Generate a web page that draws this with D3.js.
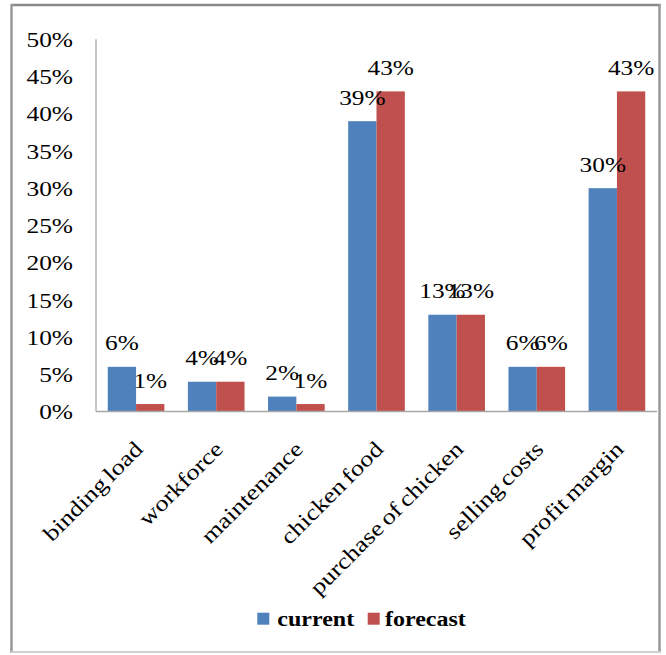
<!DOCTYPE html>
<html>
<head>
<meta charset="utf-8">
<script src="https://cdn.jsdelivr.net/npm/d3@7"></script>
<style>
  html, body { margin: 0; padding: 0; background: #fff; }
  svg { display: block; }
  text { font-family: "Liberation Serif", "Times New Roman", serif; fill: #000; }
</style>
</head>
<body>
<svg id="chart" width="666" height="655"></svg>
<script>
// Cost structure per category, current vs forecast share
const categories = ["binding load", "workforce", "maintenance", "chicken food",
                    "purchase of chicken", "selling costs", "profit margin"];
const seriesNames = ["current", "forecast"];
const currentValues = [0.06, 0.04, 0.02, 0.39, 0.13, 0.06, 0.30];
const forecastValues = [0.01, 0.04, 0.01, 0.43, 0.13, 0.06, 0.43];
const yTickValues = [0, 0.05, 0.10, 0.15, 0.20, 0.25, 0.30, 0.35, 0.40, 0.45, 0.50];
const seriesColors = ["#4F81BD", "#C0504D"];

const valuesBySeries = [currentValues, forecastValues];
const rows = categories.map((c, i) => ({
  category: c,
  values: seriesNames.map((s, k) => ({ series: s, value: valuesBySeries[k][i] }))
}));

const svg = d3.select("#chart");

// plot area
const plot = { left: 96, right: 657, top: 39.3, bottom: 411.5 };

const x0 = d3.scaleBand().domain(categories).range([plot.left, plot.right]).padding(0);
const x1 = d3.scaleBand().domain(seriesNames).range([0, x0.bandwidth()])
  .paddingInner(0).paddingOuter(0.415);
const y = d3.scaleLinear().domain([0, 0.5]).range([plot.bottom, plot.top]);
const color = d3.scaleOrdinal().domain(seriesNames).range(seriesColors);
const pct = d3.format(".0%");

// outer frame
const frame = svg.append("g");
frame.append("line").attr("x1", 11).attr("x2", 660.5).attr("y1", 5).attr("y2", 5)
  .attr("stroke", "#8a8a8a").attr("stroke-width", 2.5);
frame.append("line").attr("x1", 11.5).attr("x2", 11.5).attr("y1", 4).attr("y2", 653)
  .attr("stroke", "#999").attr("stroke-width", 2.5);
frame.append("line").attr("x1", 659.5).attr("x2", 659.5).attr("y1", 4).attr("y2", 653)
  .attr("stroke", "#999").attr("stroke-width", 2.5);
frame.append("line").attr("x1", 11).attr("x2", 660.5).attr("y1", 652).attr("y2", 652)
  .attr("stroke", "#cfcfcf").attr("stroke-width", 2);

// y axis (labels only, plain vertical rule)
const yAxis = d3.axisLeft(y).tickValues(yTickValues).tickFormat(pct).tickSize(0).tickPadding(0);
const gy = svg.append("g").attr("transform", `translate(${plot.left},0)`).call(yAxis);
gy.select(".domain").remove();
gy.selectAll(".tick text")
  .attr("x", null).attr("dy", null)
  .attr("font-size", 21)
  .attr("text-anchor", "end")
  .attr("dominant-baseline", "central")
  .attr("transform", "translate(-23,0) scale(1.21,1)")
  .style("font-family", "'Liberation Serif', serif");

svg.append("line")
  .attr("x1", plot.left).attr("x2", plot.left)
  .attr("y1", plot.top).attr("y2", plot.bottom)
  .attr("stroke", "#a0a0a0").attr("stroke-width", 1.2);

// bars
const groups = svg.append("g").selectAll("g").data(rows).join("g")
  .attr("transform", d => `translate(${x0(d.category)},0)`);

groups.selectAll("rect").data(d => d.values).join("rect")
  .attr("x", d => x1(d.series))
  .attr("y", d => y(d.value))
  .attr("width", x1.bandwidth())
  .attr("height", d => y(0) - y(d.value))
  .attr("fill", d => color(d.series));

// value labels above each bar
groups.selectAll("text.val").data(d => d.values).join("text")
  .attr("class", "val")
  .attr("font-size", 22)
  .attr("text-anchor", "middle")
  .attr("transform", d => `translate(${x1(d.series) + x1.bandwidth() / 2},${y(d.value) - 16.5}) scale(1.15,1)`)
  .text(d => pct(d.value));

// x axis baseline
svg.append("line")
  .attr("x1", plot.left).attr("x2", plot.right)
  .attr("y1", plot.bottom).attr("y2", plot.bottom)
  .attr("stroke", "#a6a6a6").attr("stroke-width", 1.6);

// rotated category labels
const xAxis = d3.axisBottom(x0).tickSize(0).tickPadding(0);
const gx = svg.append("g").attr("transform", `translate(0,${plot.bottom})`).call(xAxis);
gx.select(".domain").remove();
gx.selectAll(".tick text")
  .attr("y", null).attr("dy", null)
  .attr("font-size", 22)
  .attr("text-anchor", "end")
  .attr("word-spacing", -2)
  .attr("transform", "translate(8,39) rotate(-45) scale(1.2,1)")
  .style("font-family", "'Liberation Serif', serif");

// legend
const legendItems = [
  { name: seriesNames[0], box: 257.3, text: 277.3 },
  { name: seriesNames[1], box: 367.7, text: 385 }
];
const legend = svg.append("g");
legend.selectAll("rect").data(legendItems).join("rect")
  .attr("x", d => d.box).attr("y", 612.7)
  .attr("width", 12).attr("height", 12)
  .attr("fill", d => color(d.name));
legend.selectAll("text").data(legendItems).join("text")
  .attr("font-size", 20)
  .attr("font-weight", "bold")
  .attr("transform", d => `translate(${d.text},626) scale(1.2,1)`)
  .text(d => d.name);
</script>
</body>
</html>
